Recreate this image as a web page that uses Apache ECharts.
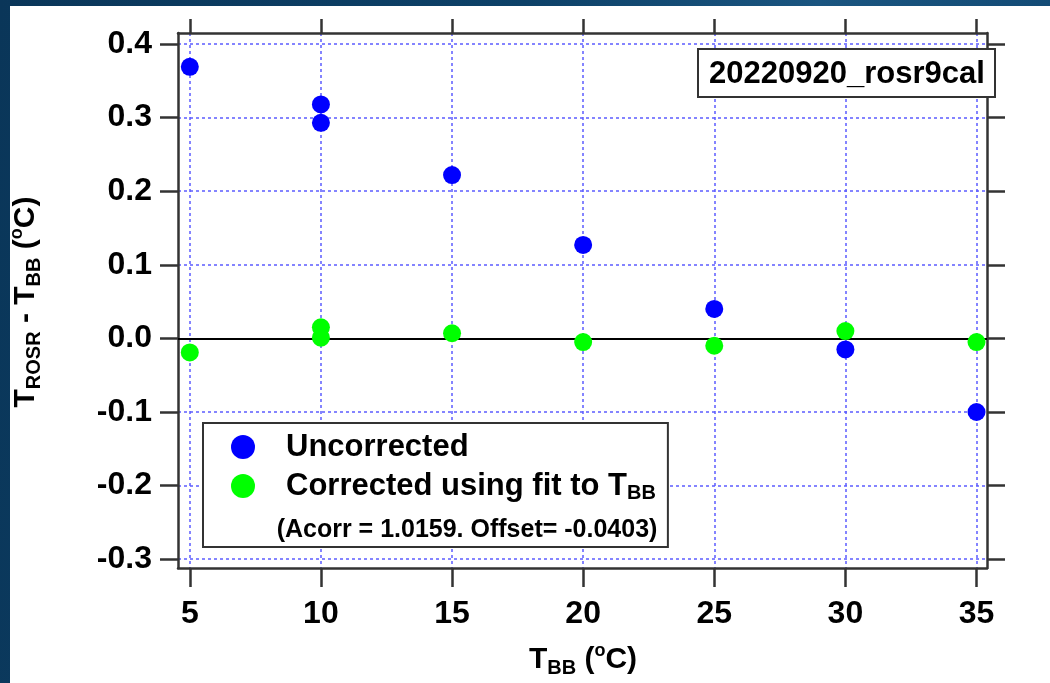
<!DOCTYPE html>
<html>
<head>
<meta charset="utf-8">
<script src="https://cdn.jsdelivr.net/npm/echarts@6/dist/echarts.min.js"></script>
<style>
  html, body { margin: 0; padding: 0; width: 1050px; height: 683px; overflow: hidden; }
  body { background: linear-gradient(100deg, #0a3659 0%, #0d4168 45%, #1a5580 70%, #0f4670 100%); position: relative; }
  #panel { position: absolute; left: 10px; top: 6px; right: 0; bottom: 0; background: #ffffff; }
  #chart { position: absolute; left: 0; top: 0; width: 1050px; height: 683px; }
</style>
</head>
<body>
<div id="panel"></div>
<div id="chart"></div>
<script>
// Blackbody temperature setpoints (deg C)
const tBB = [5, 10, 10, 15, 20, 25, 30, 35];
// ROSR minus blackbody temperature, raw
const uncorrected = [0.369, 0.318, 0.293, 0.222, 0.127, 0.040, -0.015, -0.100];
// ROSR minus blackbody temperature after applying the linear fit
const corrected = [-0.019, 0.015, 0.001, 0.007, -0.005, -0.010, 0.010, -0.005];

// Tick positions
const xTicks = [5, 10, 15, 20, 25, 30, 35];
const yTicks = [-0.3, -0.2, -0.1, 0.0, 0.1, 0.2, 0.3, 0.4];

const FONT = '"Liberation Sans", Arial, sans-serif';
const AXIS_COLOR = '#333333';
const GRID_COLOR = '#5c5cff';

const pairs = (xs, ys) => xs.map((x, i) => [x, ys[i]]);

const titleRich = {
  m: { fontFamily: FONT, fontWeight: 'bold', fontSize: 30, color: '#000', lineHeight: 36 },
  s: { fontFamily: FONT, fontWeight: 'bold', fontSize: 20, color: '#000', lineHeight: 14, verticalAlign: 'bottom' },
  p: { fontFamily: FONT, fontWeight: 'bold', fontSize: 18, color: '#000', lineHeight: 18, verticalAlign: 'top' }
};

const chart = echarts.init(document.getElementById('chart'), null, { renderer: 'canvas' });

const xAxisBase = {
  type: 'value', min: 4.55, max: 35.4,
  axisLine: { show: true, onZero: false, lineStyle: { color: AXIS_COLOR, width: 2.5 } },
  splitLine: { show: false }
};
const yAxisBase = {
  type: 'value', min: -0.312, max: 0.415,
  axisLine: { show: true, onZero: false, lineStyle: { color: AXIS_COLOR, width: 2.5 } },
  splitLine: { show: false }
};

chart.setOption({
  animation: false,
  grid: { left: 178, right: 63, top: 33, bottom: 115, containLabel: false },
  xAxis: [
    Object.assign({}, xAxisBase, {
      position: 'bottom',
      axisTick: { show: true, inside: false, length: 19, customValues: xTicks, lineStyle: { color: AXIS_COLOR, width: 2.5 } },
      axisLabel: { show: true, customValues: xTicks, margin: 31, fontFamily: FONT, fontWeight: 'bold', fontSize: 32, lineHeight: 30, color: '#000' },
      splitLine: { show: true, lineStyle: { color: GRID_COLOR, width: 1.5, type: [3, 3] } }
    }),
    Object.assign({}, xAxisBase, {
      position: 'top',
      axisTick: { show: true, inside: false, length: 14, customValues: xTicks, lineStyle: { color: AXIS_COLOR, width: 2.5 } },
      axisLabel: { show: false }
    })
  ],
  yAxis: [
    Object.assign({}, yAxisBase, {
      position: 'left',
      axisTick: { show: true, inside: false, length: 18, customValues: yTicks, lineStyle: { color: AXIS_COLOR, width: 2.5 } },
      axisLabel: { show: true, customValues: yTicks, margin: 26, fontFamily: FONT, fontWeight: 'bold', fontSize: 32, color: '#000',
        formatter: v => v.toFixed(1) },
      splitLine: { show: true, lineStyle: { color: GRID_COLOR, width: 1.5, type: [3, 3] } }
    }),
    Object.assign({}, yAxisBase, {
      position: 'right',
      axisTick: { show: true, inside: false, length: 18, customValues: yTicks, lineStyle: { color: AXIS_COLOR, width: 2.5 } },
      axisLabel: { show: false }
    })
  ],
  legend: {
    orient: 'vertical', left: 203, top: 423,
    padding: [7, 12, 44, 28], itemGap: 5,
    itemWidth: 76, itemHeight: 24, icon: 'circle',
    backgroundColor: '#ffffff', borderColor: AXIS_COLOR, borderWidth: 2,
    data: ['Uncorrected', 'Corrected'],
    itemStyle: { opacity: 1 },
    formatter: name => name === 'Corrected'
      ? '{m|Corrected using fit to T}{s|BB}'
      : '{m|Uncorrected}',
    textStyle: {
      lineHeight: 34,
      rich: {
        m: { fontFamily: FONT, fontWeight: 'bold', fontSize: 31, color: '#000', lineHeight: 34 },
        s: { fontFamily: FONT, fontWeight: 'bold', fontSize: 20, color: '#000', lineHeight: 14, verticalAlign: 'bottom' }
      }
    }
  },
  graphic: [
    {
      type: 'text', z: 20,
      style: {
        text: '(Acorr = 1.0159. Offset= -0.0403)',
        x: 467, y: 530, align: 'center', verticalAlign: 'middle',
        font: 'bold 25px ' + FONT, fill: '#000'
      }
    },
    {
      type: 'rect', z: 20,
      shape: { x: 698, y: 49, width: 297, height: 48 },
      style: { fill: '#ffffff', stroke: AXIS_COLOR, lineWidth: 2 }
    },
    {
      type: 'text', z: 21,
      style: {
        text: '20220920_rosr9cal', x: 847, y: 74, align: 'center', verticalAlign: 'middle',
        font: 'bold 31px ' + FONT, fill: '#000'
      }
    },
    {
      type: 'text', z: 20,
      style: {
        text: '{m|T}{s|BB}{m| (}{p|o}{m|C)}', x: 583, y: 660, align: 'center', verticalAlign: 'middle',
        rich: titleRich
      }
    },
    {
      type: 'text', z: 20, x: 26, y: 302, rotation: Math.PI / 2,
      style: {
        text: '{m|T}{s|ROSR}{m| - T}{s|BB}{m| (}{p|o}{m|C)}', x: 0, y: 0, align: 'center', verticalAlign: 'middle',
        rich: titleRich
      }
    }
  ],
  series: [
    {
      name: 'Uncorrected', type: 'scatter', xAxisIndex: 0, yAxisIndex: 0,
      symbol: 'circle', symbolSize: 18,
      itemStyle: { color: '#0000ff', opacity: 1 },
      data: pairs(tBB, uncorrected),
      markLine: {
        silent: true, z: 1, symbol: ['none', 'none'], label: { show: false },
        lineStyle: { color: '#000', width: 2, type: 'solid' },
        data: [{ yAxis: 0 }]
      }
    },
    {
      name: 'Corrected', type: 'scatter', xAxisIndex: 0, yAxisIndex: 0,
      symbol: 'circle', symbolSize: 18,
      itemStyle: { color: '#00ff00', opacity: 1 },
      data: pairs(tBB, corrected)
    }
  ]
});
</script>
</body>
</html>
